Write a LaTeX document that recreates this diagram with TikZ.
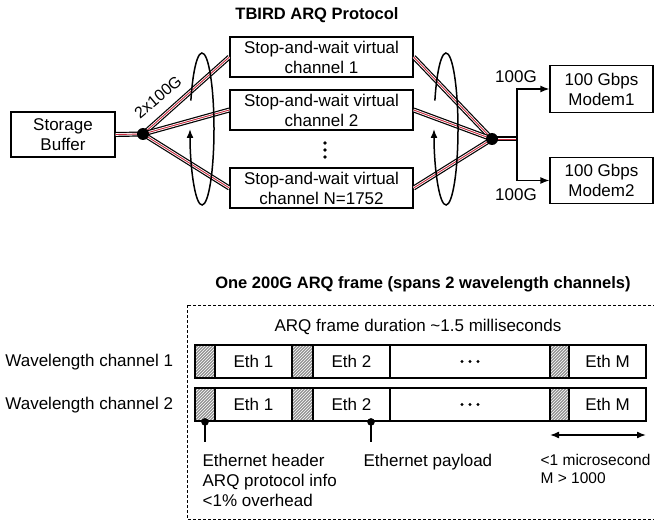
\documentclass[tikz,border=0pt]{standalone}
\usepackage{fontspec}
\setmainfont{Liberation Sans}
\usepackage{xcolor}
\usetikzlibrary{arrows.meta,patterns,positioning}
\definecolor{cablered}{RGB}{200,40,60}

\begin{document}
\begin{tikzpicture}[x=1pt,y=-1pt,>={Latex[length=9pt,width=7pt]},line width=1.3pt,
                    font=\fontsize{17}{20}\selectfont]
  \tikzstyle{box}=[draw,inner sep=0pt,align=center]
  \tikzstyle{title}=[font=\fontsize{16.5}{19}\selectfont\bfseries]
  \tikzstyle{cable}=[draw=cablered,line width=0.9pt,
                     preaction={draw=black,line width=5pt},
                     preaction={draw=white,line width=2.6pt}]
  \tikzstyle{seg}=[draw,line width=1.8pt,minimum height=33pt,inner sep=0pt]
  \tikzstyle{hatch}=[preaction={fill=gray!85},pattern=north east lines,
                     pattern color=white]
  \tikzstyle{frameline}=[line width=0.9pt,dash pattern=on 3pt off 2pt]
  \tikzstyle{spin}=[line width=1.5pt,->]

  \useasboundingbox (0,0) rectangle (654,524);

  % ARQ protocol
  \node[title] (T1) at (317,15) {TBIRD ARQ Protocol};
  \node[box,minimum width=104pt,minimum height=45pt] (SB) at (63,134.5) {Storage\\Buffer};
  \node[box,minimum width=183pt,minimum height=40pt] (V1) at (321.5,57)  {Stop-and-wait virtual\\channel 1};
  \node[box,minimum width=183pt,minimum height=40pt] (V2) at (321.5,110) {Stop-and-wait virtual\\channel 2};
  \node[box,minimum width=183pt,minimum height=40pt] (VN) at (321.5,188) {Stop-and-wait virtual\\channel N=1752};
  \node[box,minimum width=103pt,minimum height=47pt] (M1) at (601.5,89)  {100 Gbps\\Modem1};
  \node[box,minimum width=103pt,minimum height=46pt] (M2) at (601.5,180.5) {100 Gbps\\Modem2};

  \coordinate (J1) at (143,134);
  \coordinate (J2) at (492,139);
  \coordinate (B)  at (517,139);

  \draw[cable] (SB.east) -- (J1);
  \foreach \v in {V1,V2,VN} {
    \draw[cable] (J1) -- (\v.west);
    \draw[cable] (\v.east) -- (J2);
  }
  \draw[cable] (J2) -- (B);
  \fill (J1) circle (6pt);
  \fill (J2) circle (6pt);

  \draw[->] (B) |- (M1.west);
  \draw[->] (B) |- (M2.west);
  \node (L1) at (516,77)  {100G};
  \node (L2) at (516,195) {100G};
  \node[rotate=40,font=\fontsize{16}{19}\selectfont] (L0) at (158,97) {2x100G};

  \foreach \k in {0,1,2}
    \fill (325,143+7*\k) circle (1.9pt);

  % rotating arrows
  \draw[spin] (202,129) ++(202:12 and 76) arc[start angle=202,end angle=540,x radius=12,y radius=76];
  \draw[spin] (446,129) ++(202:12 and 76) arc[start angle=202,end angle=540,x radius=12,y radius=76];

  % ARQ frame
  \node[title] (T2) at (423,284) {One 200G ARQ frame (spans 2 wavelength channels)};
  \draw[frameline] (187,305) rectangle (660,519);
  \node (D) at (418,327) {ARQ frame duration \textasciitilde1.5 milliseconds};
  \node[anchor=east] (W1) at (177,362) {Wavelength channel 1};
  \node[anchor=east] (W2) at (177,405) {Wavelength channel 2};

  \foreach \r/\y in {1/361.5,2/404.5} {
    \node[seg,hatch,minimum width=20pt] (ha\r) at (205,\y) {};
    \node[seg,minimum width=77pt] (ea\r) at (253.5,\y) {Eth 1};
    \node[seg,hatch,minimum width=21pt] (hb\r) at (302.5,\y) {};
    \node[seg,minimum width=77pt] (eb\r) at (351.5,\y) {Eth 2};
    \node[seg,minimum width=160pt] (dd\r) at (470,\y) {};
    \node[seg,hatch,minimum width=19pt] (hc\r) at (559.5,\y) {};
    \node[seg,minimum width=77pt] (ec\r) at (607.5,\y) {Eth M};
    \foreach \k in {-8,0,8}
      \fill (470+\k,\y) circle (1.7pt);
  }

  \coordinate (P1) at (205,442);
  \coordinate (P2) at (371,442);
  \draw[line width=1.6pt] (ha2.south) -- (P1);
  \fill (ha2.south) circle (3.8pt);
  \draw[line width=1.6pt] (eb2.south -| P2) -- (P2);
  \fill (eb2.south -| P2) circle (3.8pt);

  \coordinate (A1) at (550,435);
  \coordinate (A2) at (646,435);
  \draw[<->,line width=1.5pt] (A1) -- (A2);

  \node[anchor=north west,inner sep=0pt,align=left] (N1) at (202,453.5) {Ethernet header\\ARQ protocol info\\<1\% overhead};
  \node[anchor=north west,inner sep=0pt] (N2) at (363,453.5) {Ethernet payload};
  \node[anchor=north west,inner sep=0pt,align=left,font=\fontsize{15.5}{18}\selectfont] (N3) at (540,454) {<1 microsecond\\M > 1000};
\end{tikzpicture}
\end{document}
